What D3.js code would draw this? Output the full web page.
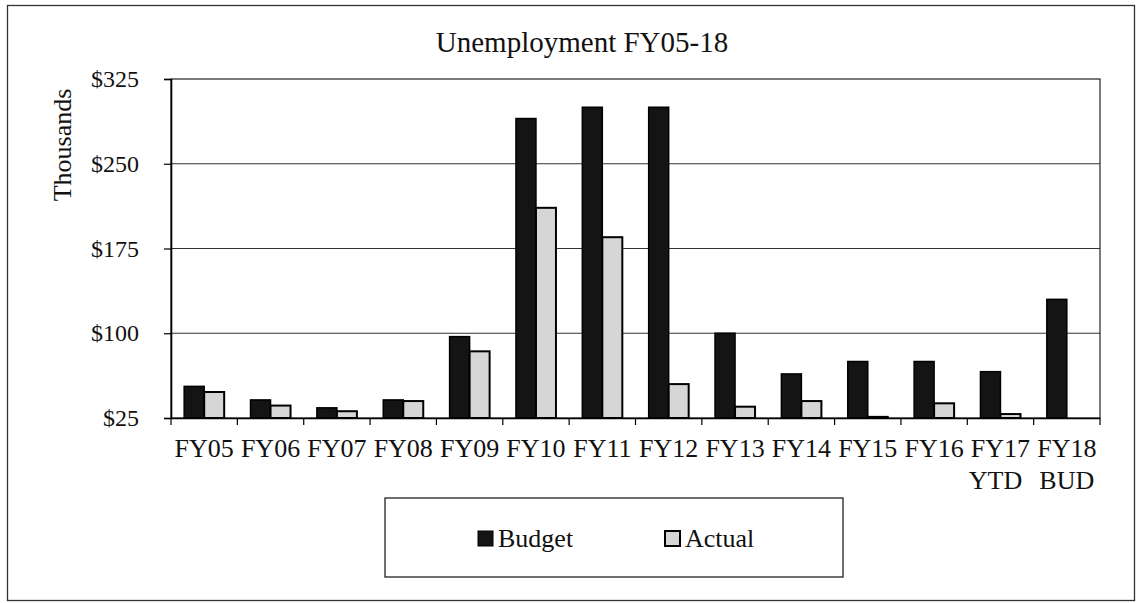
<!DOCTYPE html>
<html>
<head>
<meta charset="utf-8">
<script src="https://cdn.jsdelivr.net/npm/d3@7"></script>
<style>
  html, body { margin: 0; padding: 0; background: #fff; }
  svg text { font-family: "Liberation Serif", "Times New Roman", serif; fill: #111; }
</style>
</head>
<body>
<svg id="chart" width="1140" height="603"></svg>
<script>
// Fiscal years shown on the category axis (second line only where present)
const categories = ["FY05","FY06","FY07","FY08","FY09","FY10","FY11","FY12","FY13","FY14","FY15","FY16","FY17","FY18"];
const subLabels  = ["","","","","","","","","","","","","YTD","BUD"];

// Unemployment spending, $ thousands
const budget = [53, 41, 34, 41, 97, 290, 300, 300, 100, 64, 75, 75, 66, 130];
const actual = [48, 36, 31, 40, 84, 211, 185, 55, 35, 40, 26, 38, 28.5, null];

const yTicks = [25, 100, 175, 250, 325];
const seriesNames = ["Budget", "Actual"];

const svg = d3.select("#chart");

// outer chart frame
svg.append("rect")
  .attr("x", 7.5).attr("y", 5.5).attr("width", 1127).attr("height", 595)
  .attr("fill", "none").attr("stroke", "#333").attr("stroke-width", 1.3);

const plot = { left: 171, right: 1100, top: 79, bottom: 418 };

const x = d3.scaleBand().domain(categories).range([plot.left, plot.right]).padding(0);
const y = d3.scaleLinear().domain([25, 325]).range([plot.bottom, plot.top]);
const barW = 20;

// horizontal gridlines
svg.append("g").selectAll("line")
  .data(yTicks.filter(t => t > 25 && t < 325))
  .join("line")
  .attr("x1", plot.left).attr("x2", plot.right)
  .attr("y1", d => y(d)).attr("y2", d => y(d))
  .attr("stroke", "#333").attr("stroke-width", 1.1);

// plot-area border
svg.append("rect")
  .attr("x", plot.left).attr("y", plot.top)
  .attr("width", plot.right - plot.left).attr("height", plot.bottom - plot.top)
  .attr("fill", "none").attr("stroke", "#222").attr("stroke-width", 1.2);

// bars
const rows = categories.map((c, i) => ({ c, b: budget[i], a: actual[i] }));
const clampY = v => y(Math.max(25, v));

svg.append("g").selectAll("rect")
  .data(rows)
  .join("rect")
  .attr("x", d => x(d.c) + x.bandwidth() / 2 - barW)
  .attr("y", d => clampY(d.b))
  .attr("width", barW)
  .attr("height", d => plot.bottom - clampY(d.b))
  .attr("fill", "#141414").attr("stroke", "#000").attr("stroke-width", 1.5);

svg.append("g").selectAll("rect")
  .data(rows.filter(d => d.a != null))
  .join("rect")
  .attr("x", d => x(d.c) + x.bandwidth() / 2)
  .attr("y", d => clampY(d.a))
  .attr("width", barW)
  .attr("height", d => plot.bottom - clampY(d.a))
  .attr("fill", "#d6d6d6").attr("stroke", "#000").attr("stroke-width", 2);

// y axis
const yAxis = d3.axisLeft(y).tickValues(yTicks).tickFormat(d => "$" + d).tickSize(7).tickPadding(25);
const gy = svg.append("g").attr("transform", `translate(${plot.left},0)`).call(yAxis);
gy.select(".domain").attr("stroke", "#000").attr("stroke-width", 1.6);
gy.selectAll(".tick line").attr("stroke", "#000").attr("stroke-width", 1.2);
gy.selectAll(".tick text").attr("font-size", 24).attr("fill", "#111")
  .style("font-family", "'Liberation Serif', 'Times New Roman', serif");

// x axis with ticks at category boundaries
const xAxis = d3.axisBottom(x).tickSize(0).tickFormat("");
const gx = svg.append("g").attr("transform", `translate(0,${plot.bottom})`).call(xAxis);
gx.select(".domain").attr("stroke", "#000").attr("stroke-width", 1.6);
svg.append("g").selectAll("line")
  .data(categories.concat(["__end"]))
  .join("line")
  .attr("x1", (d, i) => plot.left + i * x.bandwidth())
  .attr("x2", (d, i) => plot.left + i * x.bandwidth())
  .attr("y1", plot.bottom).attr("y2", plot.bottom + 7)
  .attr("stroke", "#000").attr("stroke-width", 1.2);

const labels = svg.append("g").attr("font-size", 26).attr("text-anchor", "middle");
labels.selectAll("text.main")
  .data(categories)
  .join("text").attr("class", "main")
  .attr("x", d => x(d) + x.bandwidth() / 2)
  .attr("y", 457)
  .text(d => d);
labels.selectAll("text.sub")
  .data(categories.filter((c, i) => subLabels[i]))
  .join("text").attr("class", "sub")
  .attr("x", d => x(d) + x.bandwidth() / 2 - (d === "FY17" ? 5 : 0))
  .attr("y", 489)
  .text(d => subLabels[categories.indexOf(d)]);

// y axis title
svg.append("text")
  .attr("transform", "translate(71,145) rotate(-90)")
  .attr("text-anchor", "middle")
  .attr("font-size", 26)
  .text("Thousands");

// chart title
svg.append("text")
  .attr("x", 582).attr("y", 52)
  .attr("text-anchor", "middle")
  .attr("font-size", 29)
  .text("Unemployment FY05-18");

// legend
const leg = svg.append("g");
leg.append("rect")
  .attr("x", 385).attr("y", 498).attr("width", 458).attr("height", 79)
  .attr("fill", "none").attr("stroke", "#222").attr("stroke-width", 1.3);
const legendItems = [
  { name: seriesNames[0], sx: 478, fill: "#141414", sw: 1 },
  { name: seriesNames[1], sx: 665, fill: "#d6d6d6", sw: 2 }
];
const li = leg.selectAll("g.item").data(legendItems).join("g").attr("class", "item");
li.append("rect")
  .attr("x", d => d.sx).attr("y", 531).attr("width", 15).attr("height", 15)
  .attr("fill", d => d.fill).attr("stroke", "#000").attr("stroke-width", d => d.sw);
li.append("text")
  .attr("x", d => d.sx + 20).attr("y", 547)
  .attr("font-size", 26)
  .text(d => d.name);
</script>
</body>
</html>
